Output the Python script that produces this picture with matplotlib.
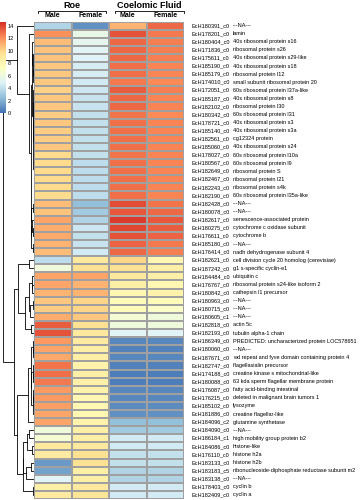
import numpy as np
import matplotlib
matplotlib.use("Agg")
import matplotlib.pyplot as plt
from matplotlib.colors import LinearSegmentedColormap

plt.rcParams['font.family'] = ['Liberation Sans', 'DejaVu Sans']

gene_ids = [
    "EcH180391_c0", "EcH178201_c0", "EcH180404_c0", "EcH171836_c0", "EcH175611_c0",
    "EcH185190_c0", "EcH185179_c0", "EcH174010_c0", "EcH172051_c0", "EcH185187_c0",
    "EcH182102_c0", "EcH180342_c0", "EcH178721_c0", "EcH185140_c0", "EcH182561_c0",
    "EcH185060_c0", "EcH178027_c0", "EcH180567_c0", "EcH182649_c0", "EcH182467_c0",
    "EcH182243_c0", "EcH182190_c0", "EcH182428_c0", "EcH180078_c0", "EcH182617_c0",
    "EcH180275_c0", "EcH176611_c0", "EcH185180_c0", "EcH176414_c0", "EcH182621_c0",
    "EcH187242_c0", "EcH184484_c0", "EcH176767_c0", "EcH180842_c0", "EcH180963_c0",
    "EcH180715_c0", "EcH180605_c1", "EcH182818_c0", "EcH182193_c0", "EcH186349_c0",
    "EcH180060_c0", "EcH187671_c0", "EcH182747_c0", "EcH174188_c0", "EcH180088_c0",
    "EcH176087_c0", "EcH176215_c0", "EcH185102_c0", "EcH181886_c0", "EcH184096_c2",
    "EcH184090_c0", "EcH186184_c1", "EcH184086_c0", "EcH176110_c0", "EcH183133_c0",
    "EcH183183_c5", "EcH183138_c0", "EcH178403_c0", "EcH182409_c0",
]
descriptions = [
    "---NA---", "lamin", "40s ribosomal protein s16", "ribosomal protein s26",
    "40s ribosomal protein s29-like", "40s ribosomal protein s18", "ribosomal protein l12",
    "small subunit ribosomal protein 20", "60s ribosomal protein l37a-like",
    "40s ribosomal protein s8", "ribosomal protein l30", "60s ribosomal protein l31",
    "40s ribosomal protein s3", "40s ribosomal protein s3a", "cg12324 protein",
    "40s ribosomal protein s24", "60s ribosomal protein l10a", "60s ribosomal protein l9",
    "ribosomal protein S", "ribosomal protein l21", "ribosomal protein s4k",
    "60s ribosomal protein l35a-like", "---NA---", "---NA---",
    "senescence-associated protein", "cytochrome c oxidase subunit", "cytochrome b",
    "---NA---", "nadh dehydrogenase subunit 4",
    "cell division cycle 20 homolog (cerevisiae)", "g1 s-specific cyclin-e1",
    "ubiquitin c", "ribosomal protein s24-like isoform 2", "cathepsin l1 precursor",
    "---NA---", "---NA---", "---NA---", "actin 5c", "tubulin alpha-1 chain",
    "PREDICTED: uncharacterized protein LOC578651", "---NA---",
    "wd repeat and fyve domain containing protein 4", "flagellasialin precursor",
    "creatine kinase s mitochondrial-like", "63 kda sperm flagellar membrane protein",
    "fatty acid-binding intestinal", "deleted in malignant brain tumors 1", "lysozyme",
    "creatine flagellar-like", "glutamine synthetase", "---NA---",
    "high mobility group protein b2", "histone-like", "histone h2a", "histone h2b",
    "ribonucleoside-diphosphate reductase subunit m2", "---NA---", "cyclin b", "cyclin a",
]
group_names = ["Roe", "Coelomic Fluid"]
column_names = ["Male", "Female", "Male", "Female"]

roe_male = [3.5, 12.0, 10.8, 10.6, 10.6, 10.5, 10.5, 10.4, 10.2, 10.5,
            10.5, 10.3, 10.5, 10.3, 10.3, 10.5, 9.9, 9.8, 9.9, 9.8,
            9.9, 9.9, 10.8, 10.6, 11.4, 11.2, 11.3, 11.0, 10.8, 3.8,
            6.0, 11.5, 11.5, 11.0, 10.5, 10.3, 11.2, 13.4, 13.6, 11.8,
            11.5, 11.3, 12.8, 12.9, 12.6, 11.8, 11.7, 11.6, 11.5, 11.4,
            6.0, 6.5, 9.0, 8.8, 1.2, 1.5, 5.0, 8.5, 8.8]
roe_female = [1.0, 5.6, 5.4, 5.0, 4.9, 4.6, 4.6, 4.5, 4.3, 4.1,
              4.1, 4.0, 4.0, 4.0, 4.0, 4.0, 4.0, 3.9, 3.9, 3.9,
              3.9, 3.9, 2.5, 3.0, 3.5, 4.3, 4.0, 4.2, 4.4, 9.0,
              9.5, 11.5, 11.0, 11.0, 10.0, 10.0, 10.5, 9.5, 9.0, 8.8,
              8.5, 8.5, 8.2, 8.5, 8.4, 8.2, 8.0, 8.0, 8.0, 8.2,
              8.5, 8.5, 9.0, 9.5, 9.5, 8.5, 8.5, 9.0, 9.2]
cf_male = [11.0, 13.6, 13.0, 13.0, 13.0, 12.9, 12.9, 12.7, 13.4, 13.0,
           13.0, 12.8, 12.9, 12.9, 12.9, 12.9, 12.8, 12.9, 12.9, 12.9,
           12.9, 12.9, 13.8, 13.5, 14.3, 14.0, 13.7, 13.2, 13.0, 10.0,
           9.5, 9.0, 8.5, 8.0, 7.5, 7.5, 6.5, 6.0, 5.0, 0.6,
           0.5, 0.6, 0.5, 0.3, 0.4, 0.6, 0.7, 0.8, 1.0, 2.5,
           3.0, 4.5, 4.5, 4.0, 4.0, 3.5, 3.5, 4.5, 4.5]
cf_female = [13.0, 12.6, 12.5, 12.5, 12.5, 12.4, 12.4, 12.2, 12.5, 12.4,
             12.4, 12.2, 12.4, 12.4, 12.4, 12.4, 12.3, 12.4, 12.4, 12.4,
             12.4, 12.4, 12.8, 13.0, 13.5, 13.3, 13.2, 12.7, 12.5, 8.0,
             8.5, 8.5, 8.0, 8.2, 7.5, 7.0, 6.0, 6.0, 5.0, 0.6,
             0.5, 0.6, 0.5, 0.3, 0.4, 0.6, 0.7, 0.8, 1.0, 2.5,
             3.0, 4.5, 4.5, 4.0, 4.0, 3.5, 3.5, 4.5, 4.5]

data = np.array([roe_male, roe_female, cf_male, cf_female]).T
n_rows, n_cols = data.shape

W, H = 363, 500
fig = plt.figure(figsize=(W / 100, H / 100), dpi=100)

def px_axes(x0, y0, x1, y1):
    return fig.add_axes([x0 / W, 1 - y1 / H, (x1 - x0) / W, (y1 - y0) / H])

cmap = LinearSegmentedColormap.from_list(
    "pheat", ["#4575B4", "#91BFDB", "#E0F3F8", "#FFFFBF", "#FEE090", "#FC8D59", "#D73027"], N=100)
vmin, vmax = 0, 14.6

hm_x0, hm_x1, hm_y0, hm_y1 = 34, 184, 21.5, 499
ax = px_axes(hm_x0, hm_y0, hm_x1, hm_y1)
ax.pcolormesh(np.arange(n_cols + 1), np.arange(n_rows + 1), data, cmap=cmap,
              vmin=vmin, vmax=vmax, edgecolors="#a0a0a0", linewidth=0.3)
ax.set_xlim(0, n_cols)
ax.set_ylim(n_rows, 0)
ax.axis("off")

# row labels
for i in range(n_rows):
    yy = hm_y0 + (i + 0.5) * (hm_y1 - hm_y0) / n_rows
    fig.text(192 / W, 1 - yy / H, gene_ids[i], fontsize=4, va="center", ha="left")
    fig.text(233 / W, 1 - yy / H, descriptions[i], fontsize=4, va="center", ha="left")

# column labels
col_w = (hm_x1 - hm_x0) / n_cols
for j in range(n_cols):
    cx = hm_x0 + (j + 0.5) * col_w
    fig.text(cx / W, 1 - 15.5 / H, column_names[j], fontsize=5, fontweight="bold",
             ha="center", va="center")
for g, (a, b) in enumerate([(38, 106), (115, 184)]):
    fig.text(((a + b) / 2) / W, 1 - 5 / H, group_names[g], fontsize=6.5, fontweight="bold",
             ha="center", va="center")
    fig.add_artist(plt.Line2D([a / W, a / W, b / W, b / W],
                              [1 - 12.5 / H, 1 - 10.5 / H, 1 - 10.5 / H, 1 - 12.5 / H],
                              color="black", lw=0.6))

# dendrogram (adjacency-constrained average linkage on the shown order)
def adjacent_linkage(X):
    clusters = [[i] for i in range(len(X))]
    pos = [float(i) + 0.5 for i in range(len(X))]
    hts = [0.0] * len(X)
    segs = []
    while len(clusters) > 1:
        best, bk = None, 0
        for k in range(len(clusters) - 1):
            A, B = X[clusters[k]], X[clusters[k + 1]]
            d = np.sqrt(((A[:, None, :] - B[None, :, :]) ** 2).sum(-1)).mean()
            if best is None or d < best:
                best, bk = d, k
        h = max(best, hts[bk], hts[bk + 1])
        segs.append(((hts[bk], h, h, hts[bk + 1]), (pos[bk], pos[bk], pos[bk + 1], pos[bk + 1])))
        clusters[bk] = clusters[bk] + clusters[bk + 1]
        pos[bk] = (pos[bk] + pos[bk + 1]) / 2
        hts[bk] = h
        del clusters[bk + 1], pos[bk + 1], hts[bk + 1]
    return segs, hts[0]

segs, top = adjacent_linkage(data)
axd = px_axes(3, hm_y0, hm_x0, hm_y1)
for xs, ys in segs:
    axd.plot(xs, ys, color="black", lw=0.6, solid_capstyle="butt")
axd.set_xlim(top * 1.01, 0)
axd.set_ylim(n_rows, 0)
axd.axis("off")

# colorbar
cax = px_axes(0, 22, 6, 113)
grad = np.linspace(vmin, vmax, 200).reshape(-1, 1)
cax.imshow(grad, aspect="auto", cmap=cmap, origin="lower", extent=(0, 1, vmin, vmax))
cax.set_xticks([])
cax.yaxis.tick_right()
cax.set_yticks(np.arange(0, 15, 2))
cax.tick_params(axis="y", length=0, pad=1.5, labelsize=4)
for s in cax.spines.values():
    s.set_visible(False)

fig.savefig("out.png", dpi=100)
